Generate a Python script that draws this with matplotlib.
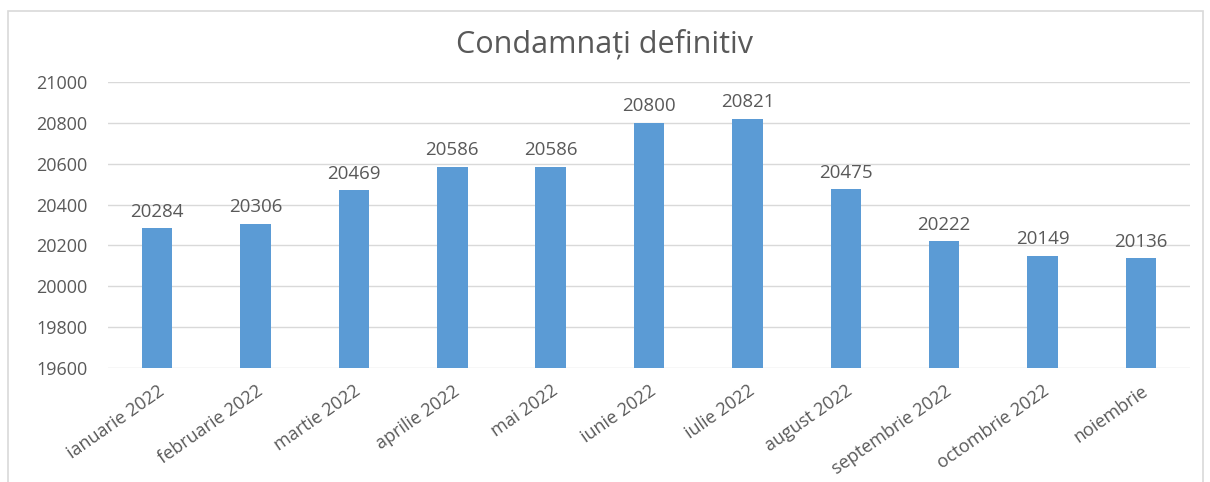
import matplotlib.pyplot as plt
from matplotlib.patches import Rectangle

months = ['ianuarie 2022', 'februarie 2022', 'martie 2022', 'aprilie 2022', 'mai 2022',
          'iunie 2022', 'iulie 2022', 'august 2022', 'septembrie 2022', 'octombrie 2022',
          'noiembrie']
values = [20284, 20306, 20469, 20586, 20586, 20800, 20821, 20475, 20222, 20149, 20136]
yticks = [19600, 19800, 20000, 20200, 20400, 20600, 20800, 21000]

plt.rcParams['font.family'] = ['Open Sans', 'DejaVu Sans']
txt = '#595959'

fig = plt.figure(figsize=(12.1, 4.82), dpi=100)
ax = fig.add_axes([0.0893, 0.2365, 0.8942, 0.5935])

x = list(range(len(months)))
ax.bar(x, [v - 19600 for v in values], bottom=19600, width=0.31, color='#5b9bd5', zorder=3)
for i, v in zip(x, values):
    ax.text(i, v + 36, str(v), ha='center', va='bottom', fontsize=13.5, color=txt)

ax.set_ylim(19600, 21000)
ax.set_xlim(-0.5, len(months) - 0.5)
ax.set_yticks(yticks)
ax.set_yticklabels([str(t) for t in yticks], fontsize=13, color=txt)
ax.set_xticks(x)
ax.set_xticklabels(months, rotation=35, ha='right', rotation_mode='anchor', fontsize=13, color=txt)
ax.tick_params(axis='both', length=0)
ax.tick_params(axis='y', pad=15)
ax.tick_params(axis='x', pad=10)
ax.grid(axis='y', color='#d9d9d9', linewidth=1, zorder=0)
for s in ax.spines.values():
    s.set_visible(False)

fig.text(0.5, 0.908, 'Condamnați definitiv', ha='center', va='center', fontsize=22, color=txt)

# outer chart border
fig.patches.append(Rectangle((8 / 1210, -0.05), 1195 / 1210, 1 - 11 / 482 + 0.05,
                             transform=fig.transFigure, fill=False, edgecolor='#d9d9d9', linewidth=1.2))

fig.savefig('out.png', dpi=100)
